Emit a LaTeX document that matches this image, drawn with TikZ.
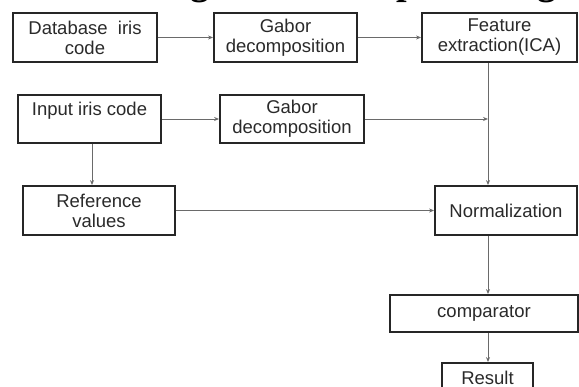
\documentclass[tikz,border=0pt]{standalone}
\usepackage{fontspec}
\setmainfont{Liberation Sans}
\newfontfamily\titlefont{Liberation Serif}
\usetikzlibrary{arrows.meta}
\definecolor{boxline}{HTML}{262626}
\definecolor{conn}{HTML}{6A6A6A}
\definecolor{txt}{HTML}{2A2A2A}
\tikzset{
  box/.style={draw=boxline, line width=1.8pt, align=center, text=txt, inner sep=2pt,
              font=\fontsize{18.5}{20}\selectfont},
  conn/.style={draw=conn, line width=0.9pt},
  arr/.style={conn, -{Stealth[length=5pt,width=4pt]}},
}
\begin{document}
\begin{tikzpicture}[x=1pt,y=1pt]
\useasboundingbox (0,0) rectangle (579,-387);
\clip (0,0) rectangle (579,-387);
\fill[white] (0,0) rectangle (579,-387);
% clipped title (only its lowest part shows)
\node[anchor=base west, inner sep=0pt, font=\titlefont\bfseries\fontsize{38}{42}\selectfont] (title) at (-10,5.5) {4. Block Diagram Of Proposed Algorithm};
% vertical guide positions
\coordinate (vx) at (488,0);
\coordinate (lx) at (92,0);
% boxes
\node[box, minimum width=144pt, minimum height=49pt] (db)   at (85,-37.5)   {Database\ \ iris\\code};
\node[box, minimum width=143pt, minimum height=49pt] (gab1) at (285.5,-37.5) {Gabor\\decomposition};
\node[box, minimum width=155pt, minimum height=49pt] (feat) at (499.5,-37.5) {Feature\\extraction(ICA)};
\node[box, minimum width=143pt, minimum height=48pt] (inp)  at (89.5,-119)  {Input iris code\\\mbox{}};
\node[box, minimum width=144pt, minimum height=48pt] (gab2) at (292,-119)   {Gabor\\decomposition};
\node[box, minimum width=152pt, minimum height=49pt] (ref)  at (99,-210.5)  {Reference\\values};
\node[box, minimum width=142pt, minimum height=49pt] (norm) at (506,-210.5) {Normalization};
\node[box, minimum width=188pt, minimum height=37pt] (comp) at (484,-313.5) {comparator};
\node[box, minimum width=91pt,  minimum height=30pt] (res)  at (487.5,-378) {Result};
% connectors
\draw[arr] (db) -- (gab1);
\draw[arr] (gab1) -- (feat);
\draw[arr] (feat.south -| vx) -- (norm.north -| vx);
\draw[arr] (inp) -- (gab2);
\draw[arr] (gab2.east) -- (gab2.east -| vx);
\draw[arr] (inp.south -| lx) -- (ref.north -| lx);
\draw[arr] (ref) -- (norm);
\draw[arr] (norm.south -| vx) -- (comp.north -| vx);
\draw[arr] (comp.south -| vx) -- (res.north -| vx);
\end{tikzpicture}
\end{document}
